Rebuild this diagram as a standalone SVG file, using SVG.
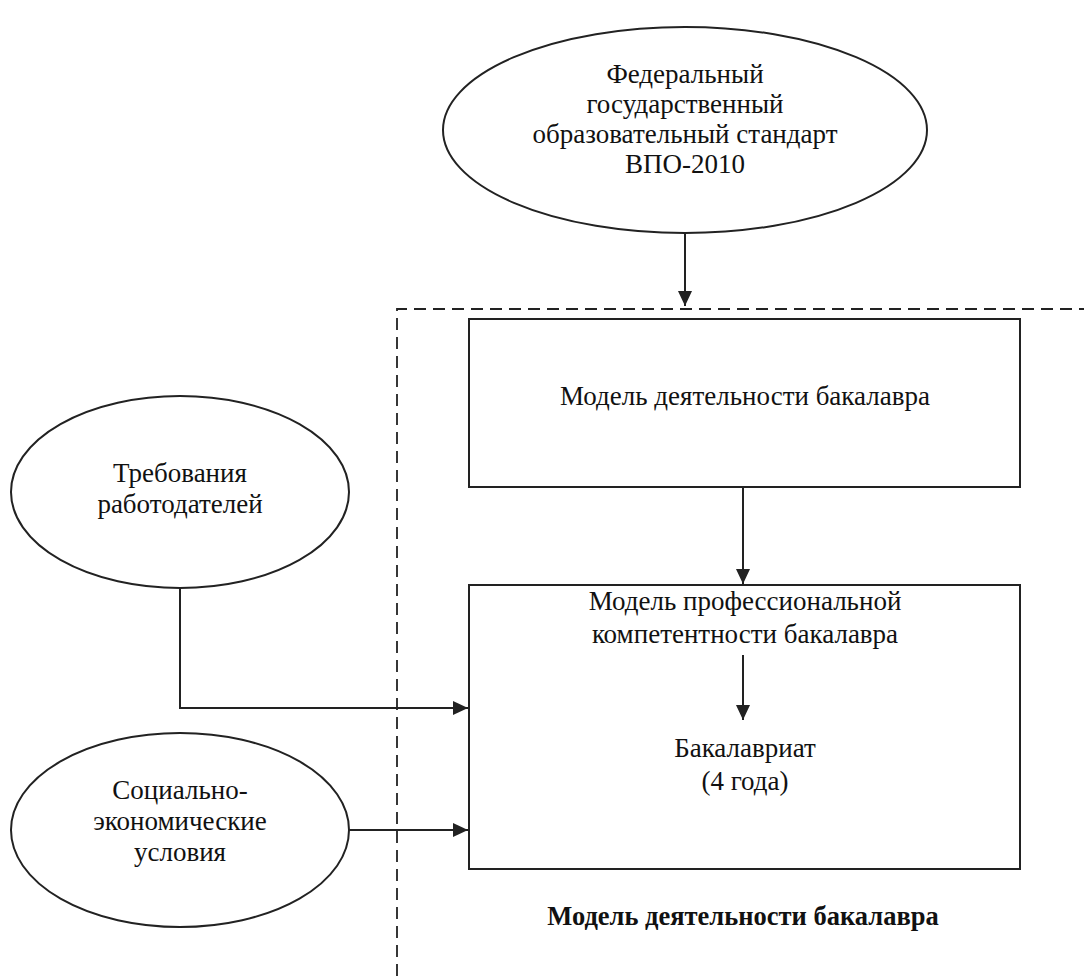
<svg xmlns="http://www.w3.org/2000/svg" width="1084" height="976" viewBox="0 0 1084 976">
<style>
.s{fill:none;stroke:#222;stroke-width:2}
.t{font-family:"Liberation Serif",serif;font-size:27px;fill:#111;text-anchor:middle}
.b{font-weight:bold;font-size:26.5px}
.d{fill:none;stroke:#222;stroke-width:1.8;stroke-dasharray:12,7}
</style>
<defs>
<marker id="a" viewBox="0 0 15 14" refX="15" refY="7" markerWidth="15" markerHeight="14" orient="auto" markerUnits="userSpaceOnUse"><path d="M0,0L15,7L0,14z" fill="#222"/></marker>
</defs>
<rect width="1084" height="976" fill="#fff"/>
<g id="frame"><path class="d" d="M397,976V309H1084"/></g>
<g id="fgos"><ellipse class="s" cx="685" cy="130" rx="242" ry="103"/>
<text class="t" x="685" y="83">Федеральный</text>
<text class="t" x="685" y="113">государственный</text>
<text class="t" x="685" y="143">образовательный стандарт</text>
<text class="t" x="685" y="173">ВПО-2010</text></g>
<g id="box1"><rect class="s" x="469" y="319" width="551" height="168"/>
<text class="t" x="745" y="405">Модель деятельности бакалавра</text></g>
<g id="box2"><rect class="s" x="469" y="585" width="551" height="284"/>
<text class="t" x="745" y="610">Модель профессиональной</text>
<text class="t" x="745" y="643">компетентности бакалавра</text>
<text class="t" x="745" y="757">Бакалавриат</text>
<text class="t" x="745" y="790">(4 года)</text></g>
<g id="empl"><ellipse class="s" cx="180" cy="492" rx="169" ry="96"/>
<text class="t" x="180" y="482">Требования</text>
<text class="t" x="180" y="513">работодателей</text></g>
<g id="soc"><ellipse class="s" cx="180" cy="830" rx="169" ry="97"/>
<text class="t" x="180" y="799">Социально-</text>
<text class="t" x="180" y="830">экономические</text>
<text class="t" x="180" y="861">условия</text></g>
<g id="connectors" class="s" marker-end="url(#a)">
<path d="M685,234V306"/>
<path d="M743,487V584"/>
<path d="M743,655V720"/>
<path d="M180,588V708H468"/>
<path d="M349,830H468"/>
</g>
<text class="t b" x="743" y="925">Модель деятельности бакалавра</text>
</svg>
